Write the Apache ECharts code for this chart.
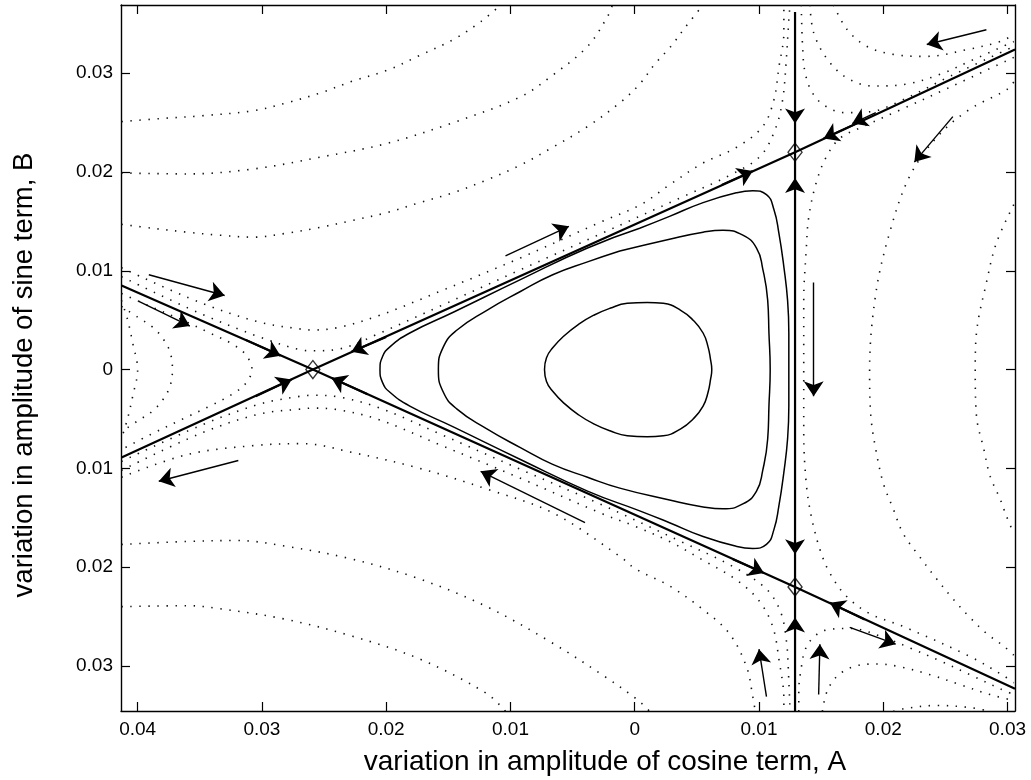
<!DOCTYPE html>
<html><head><meta charset="utf-8">
<script src="https://cdn.jsdelivr.net/npm/echarts@6/dist/echarts.min.js"></script>
<style>html,body{margin:0;padding:0;background:#fff}#c{width:1031px;height:780px}</style>
</head><body><div id="c"></div>
<script>
// ---- tick labels / axis ranges ----
const xTicks = [-0.04,-0.03,-0.02,-0.01,0,0.01,0.02,0.03];
const yTicks = [-0.03,-0.02,-0.01,0,0.01,0.02,0.03];
const xTitle = 'variation in amplitude of cosine term, A';
const yTitle = 'variation in amplitude of sine term, B';

// ---- saddle points ----
const saddles = [[-0.0259,0],[0.0129,0.0220],[0.0129,-0.0220]];

// ---- separatrices (solid, thick) ----
const sepA = [[-0.0413,0.0085],[-0.0259,0],[0.0129,-0.0220],[0.0306,-0.0323]];
const sepB = [[-0.0413,-0.0089],[-0.0259,0],[0.0129,0.0220],[0.0306,0.0324]];
const sepV = [[0.0129,0.0362],[0.0129,-0.0346]];

// ---- closed orbits (solid, thin) ----
const orbit1 = [[0.0010,0.0068],[0.0023,0.0067],[0.0037,0.0060],[0.0047,0.0050],[0.0055,0.0037],[0.0059,0.0023],[0.0061,0.0010],[0.0062,0],[0.0061,-0.0010],[0.0059,-0.0023],[0.0055,-0.0037],[0.0047,-0.0050],[0.0037,-0.0060],[0.0023,-0.0067],[0.0010,-0.0068],[-0.0006,-0.0067],[-0.0020,-0.0062],[-0.0033,-0.0055],[-0.0045,-0.0046],[-0.0057,-0.0034],[-0.0066,-0.0022],[-0.0071,-0.0012],[-0.00726,0],[-0.0071,0.0012],[-0.0066,0.0022],[-0.0057,0.0034],[-0.0045,0.0046],[-0.0033,0.0055],[-0.0020,0.0062],[-0.0006,0.0067],[0.0010,0.0068]];
const orbit2 = [[-0.0012,0.0120],[0.0028,0.0132],[0.0055,0.0139],[0.0071,0.0141],[0.0087,0.0136],[0.0098,0.0123],[0.0103,0.0102],[0.0107,0.0070],[0.0108,0.0037],[0.0109,0],[0.0108,-0.0037],[0.0107,-0.0070],[0.0103,-0.0102],[0.0098,-0.0123],[0.0087,-0.0136],[0.0071,-0.0141],[0.0055,-0.0139],[0.0028,-0.0132],[-0.0012,-0.0120],[-0.0038,-0.0109],[-0.0066,-0.0096],[-0.0092,-0.0079],[-0.0119,-0.0060],[-0.0143,-0.0040],[-0.0154,-0.0023],[-0.0158,0],[-0.0154,0.0023],[-0.0143,0.0040],[-0.0119,0.0060],[-0.0092,0.0079],[-0.0066,0.0096],[-0.0038,0.0109],[-0.0012,0.0120]];
const orbit3 = [[0.0004,0.0143],[0.0028,0.0155],[0.0055,0.0169],[0.0082,0.0179],[0.0095,0.0181],[0.0106,0.0177],[0.0112,0.0162],[0.0116,0.0138],[0.0120,0.0104],[0.0123,0.0070],[0.0124,0.0037],[0.0124,0],[0.0124,-0.0037],[0.0123,-0.0070],[0.0120,-0.0104],[0.0116,-0.0138],[0.0112,-0.0162],[0.0106,-0.0177],[0.0095,-0.0181],[0.0082,-0.0179],[0.0055,-0.0169],[0.0028,-0.0155],[0.0004,-0.0143],[-0.0038,-0.0123],[-0.0092,-0.0091],[-0.0146,-0.0058],[-0.0181,-0.0037],[-0.0197,-0.0023],[-0.0203,-0.0013],[-0.0205,0],[-0.0203,0.0013],[-0.0197,0.0023],[-0.0181,0.0037],[-0.0146,0.0058],[-0.0092,0.0091],[-0.0038,0.0123],[0.0004,0.0143]];

// ---- dotted trajectories ----
const dotUL1 = [[-0.0413,0.0251],[-0.0382,0.0254],[-0.0347,0.0257],[-0.0307,0.0262],[-0.0280,0.0270],[-0.0253,0.0280],[-0.0227,0.0292],[-0.0199,0.0303],[-0.0173,0.0318],[-0.0146,0.0334],[-0.0124,0.0352],[-0.0108,0.0369]];
const dotUL2 = [[-0.0413,0.0199],[-0.0360,0.0198],[-0.0307,0.0203],[-0.0253,0.0215],[-0.0199,0.0229],[-0.0146,0.0250],[-0.0092,0.0276],[-0.0066,0.0298],[-0.0038,0.0327],[-0.0022,0.0357],[-0.0018,0.0369]];
const dotUL3 = [[-0.0413,0.0147],[-0.0388,0.0143],[-0.0360,0.0139],[-0.0334,0.0136],[-0.0307,0.0134],[-0.0280,0.0138],[-0.0253,0.0144],[-0.0227,0.0151],[-0.0199,0.0159],[-0.0173,0.0169],[-0.0146,0.0179],[-0.0119,0.0192],[-0.0092,0.0207],[-0.0066,0.0225],[-0.0038,0.0246],[-0.0012,0.0270],[0.0004,0.0289],[0.0016,0.0309],[0.0029,0.0327],[0.0041,0.0347],[0.0055,0.0369]];
const dotUL4 = [[-0.0413,0.0103],[-0.0350,0.0068],[-0.0302,0.0048],[-0.0269,0.0041],[-0.0259,0.0040],[-0.0237,0.0043],[-0.0205,0.0055],[-0.0157,0.0079],[-0.0092,0.0113],[-0.0028,0.0149],[0.0005,0.0167],[0.0028,0.0187],[0.0055,0.0209],[0.0082,0.0225],[0.0103,0.0246],[0.0112,0.0273],[0.0116,0.0306],[0.0120,0.0341],[0.0120,0.0369]];
const dotUL5 = [[-0.0413,0.0094],[-0.0350,0.0057],[-0.0302,0.0033],[-0.0269,0.0020],[-0.0259,0.0019],[-0.0237,0.0021],[-0.0205,0.0037],[-0.0157,0.0064],[-0.0092,0.0101],[-0.0028,0.0137],[0.0037,0.0174],[0.0077,0.0197],[0.0101,0.0216],[0.0113,0.0243],[0.0119,0.0273],[0.0122,0.0314],[0.0124,0.0354],[0.0125,0.0369]];
const dotLL1 = [[-0.0413,-0.0240],[-0.0360,-0.0239],[-0.0334,-0.0242],[-0.0280,-0.0253],[-0.0227,-0.0270],[-0.0173,-0.0293],[-0.0119,-0.0328],[-0.0104,-0.0346]];
const dotLL2 = [[-0.0413,-0.0177],[-0.0360,-0.0174],[-0.0320,-0.0173],[-0.0280,-0.0179],[-0.0227,-0.0192],[-0.0173,-0.0212],[-0.0119,-0.0240],[-0.0066,-0.0277],[-0.0025,-0.0310],[0.0002,-0.0334],[0.0012,-0.0346]];
const dotLL3 = [[-0.0413,-0.0109],[-0.0360,-0.0086],[-0.0307,-0.0077],[-0.0267,-0.0075],[-0.0227,-0.0084],[-0.0173,-0.0100],[-0.0119,-0.0121],[-0.0066,-0.0145],[-0.0012,-0.0189],[0.0001,-0.0202],[0.0028,-0.0219],[0.0055,-0.0243],[0.0076,-0.0267],[0.0090,-0.0301],[0.0095,-0.0331],[0.0097,-0.0346]];
const dotLL4 = [[-0.0413,-0.0093],[-0.0350,-0.0057],[-0.0302,-0.0035],[-0.0269,-0.0027],[-0.0259,-0.0026],[-0.0237,-0.0028],[-0.0205,-0.0039],[-0.0157,-0.0065],[-0.0092,-0.0101],[-0.0028,-0.0136],[0.0037,-0.0174],[0.0077,-0.0198],[0.0105,-0.0221],[0.0117,-0.0244],[0.0122,-0.0274],[0.0124,-0.0315],[0.0125,-0.0346]];
const dotLL5 = [[-0.0413,-0.0102],[-0.0350,-0.0065],[-0.0302,-0.0045],[-0.0269,-0.0040],[-0.0259,-0.0039],[-0.0237,-0.0041],[-0.0205,-0.0051],[-0.0157,-0.0076],[-0.0092,-0.0110],[-0.0028,-0.0145],[0.0001,-0.0159],[0.0028,-0.0174],[0.0055,-0.0193],[0.0082,-0.0213],[0.0100,-0.0234],[0.0111,-0.0260],[0.0116,-0.0293],[0.0120,-0.0334],[0.0120,-0.0346]];
const dotL1 = [[-0.0413,0.0070],[-0.0408,0.0050],[-0.0404,0.0027],[-0.0400,0],[-0.0404,-0.0027],[-0.0408,-0.0049],[-0.0413,-0.0070]];
const dotL2 = [[-0.0413,0.0064],[-0.0400,0.0053],[-0.0388,0.0043],[-0.0380,0.0032],[-0.0374,0.0018],[-0.0372,0],[-0.0374,-0.0017],[-0.0380,-0.0031],[-0.0388,-0.0042],[-0.0400,-0.0052],[-0.0413,-0.0063]];
const dotL3 = [[-0.0413,0.0077],[-0.0390,0.0064],[-0.0362,0.0049],[-0.0342,0.0037],[-0.0324,0.0026],[-0.0313,0.0015],[-0.0308,0],[-0.0313,-0.0014],[-0.0324,-0.0025],[-0.0342,-0.0037],[-0.0362,-0.0049],[-0.0390,-0.0066],[-0.0413,-0.0081]];
const dotTR1 = [[0.0134,0.0369],[0.0135,0.0329],[0.0137,0.0301],[0.0143,0.0280],[0.0153,0.0267],[0.0169,0.0260],[0.0190,0.0261],[0.0214,0.0272],[0.0254,0.0297],[0.0305,0.0327]];
const dotTR2 = [[0.0141,0.0369],[0.0144,0.0341],[0.0155,0.0314],[0.0171,0.0295],[0.0192,0.0287],[0.0219,0.0289],[0.0246,0.0299],[0.0273,0.0314],[0.0305,0.0332]];
const dotTR3 = [[0.0160,0.0369],[0.0171,0.0344],[0.0187,0.0327],[0.0208,0.0319],[0.0235,0.0317],[0.0268,0.0324],[0.0294,0.0332],[0.0305,0.0339]];
const dotR1 = [[0.0305,0.0316],[0.0254,0.0286],[0.0214,0.0263],[0.0182,0.0245],[0.0165,0.0234],[0.0154,0.0215],[0.0146,0.0189],[0.0140,0.0154],[0.0138,0.0121],[0.0136,0.0070],[0.0136,0],[0.0136,-0.0064],[0.0138,-0.0115],[0.0142,-0.0148],[0.0149,-0.0182],[0.0157,-0.0206],[0.0170,-0.0229],[0.0189,-0.0247],[0.0216,-0.0260],[0.0269,-0.0290],[0.0297,-0.0310],[0.0305,-0.0317]];
const dotR2 = [[0.0305,0.0291],[0.0299,0.0283],[0.0269,0.0263],[0.0243,0.0235],[0.0221,0.0195],[0.0205,0.0138],[0.0194,0.0077],[0.0189,0],[0.0190,-0.0047],[0.0194,-0.0081],[0.0200,-0.0115],[0.0208,-0.0141],[0.0216,-0.0166],[0.0229,-0.0189],[0.0243,-0.0212],[0.0256,-0.0232],[0.0269,-0.0250],[0.0283,-0.0267],[0.0297,-0.0280],[0.0305,-0.0289]];
const dotR3 = [[0.0305,0.0167],[0.0291,0.0128],[0.0283,0.0088],[0.0275,0.0037],[0.0274,0],[0.0275,-0.0047],[0.0281,-0.0081],[0.0286,-0.0108],[0.0294,-0.0131],[0.0299,-0.0148],[0.0305,-0.0166]];
const dotBR1 = [[0.0132,-0.0346],[0.0132,-0.0325],[0.0134,-0.0302],[0.0137,-0.0284],[0.0143,-0.0272],[0.0153,-0.0264],[0.0174,-0.0262],[0.0198,-0.0270],[0.0222,-0.0282],[0.0246,-0.0295],[0.0270,-0.0309],[0.0294,-0.0323],[0.0305,-0.0329]];
const dotBR2 = [[0.0151,-0.0346],[0.0155,-0.0325],[0.0164,-0.0309],[0.0178,-0.0300],[0.0195,-0.0298],[0.0214,-0.0301],[0.0238,-0.0309],[0.0262,-0.0319],[0.0286,-0.0329],[0.0305,-0.0335]];
const dotBR3 = [[0.0208,-0.0346],[0.0218,-0.0343],[0.0243,-0.0340],[0.0269,-0.0342],[0.0286,-0.0346]];

// ---- arrowheads on separatrices (from -> tip) ----
const sepArrows = [
  [[-0.0313,0.0030],[-0.0285,0.0014]],
  [[-0.0305,-0.0027],[-0.0276,-0.0010]],
  [[-0.0215,-0.0025],[-0.0244,-0.00085]],
  [[-0.0200,0.0033],[-0.0228,0.0018]],
  [[0.0070,0.0187],[0.0095,0.0201]],
  [[0.0180,0.0250],[0.0152,0.0234]],
  [[0.0129,0.0275],[0.0129,0.0249]],
  [[0.0129,0.0168],[0.0129,0.0194]],
  [[0.0129,-0.0161],[0.0129,-0.0187]],
  [[0.0129,-0.0277],[0.0129,-0.0251]],
  [[0.0079,-0.0192],[0.0104,-0.0206]],
  [[0.0185,-0.0253],[0.0157,-0.0236]]
];
// ---- free flow-direction arrows (tail -> head) ----
const flowArrows = [
  [[-0.0391,0.0096],[-0.0330,0.0075]],
  [[-0.0399,0.0069],[-0.0358,0.0044]],
  [[-0.0104,0.0115],[-0.0053,0.0145]],
  [[-0.0319,-0.0092],[-0.0383,-0.0113]],
  [[-0.0040,-0.0155],[-0.0124,-0.0103]],
  [[0.0283,0.0344],[0.0235,0.0329]],
  [[0.0256,0.0256],[0.0225,0.0210]],
  [[0.0144,0.0088],[0.0144,-0.0027]],
  [[0.0106,-0.0331],[0.0100,-0.0283]],
  [[0.0148,-0.0329],[0.0149,-0.0278]],
  [[0.0173,-0.0261],[0.0210,-0.0278]],
  [[0.0194,0.0260],[0.0175,0.0249]]
];

const dotted = [dotUL1,dotUL2,dotUL3,dotUL4,dotUL5,dotLL1,dotLL2,dotLL3,dotLL4,dotLL5,dotL1,dotL2,dotL3,dotTR1,dotTR2,dotTR3,dotR1,dotR2,dotR3,dotBR1,dotBR2,dotBR3];
const orbits = [orbit1,orbit2,orbit3];
const seps = [sepA,sepB,sepV];

const FONT = 'Liberation Sans, Arial, Helvetica, sans-serif';
const fmt = v => Math.abs(v) < 1e-9 ? '0' : Math.abs(v).toFixed(2);
const X_MIN = -0.04134, X_MAX = 0.0306, Y_MIN = -0.03456, Y_MAX = 0.0369;

function xAx(pos, labels) {
  return {
    type:'value', position:pos, min:X_MIN, max:X_MAX,
    axisLine:{show:true, onZero:false, lineStyle:{color:'#000', width:1.4}},
    axisTick:{show:true, inside:true, length:9, customValues:xTicks, lineStyle:{color:'#000', width:1.2}},
    axisLabel:{show:labels, customValues:xTicks, formatter:fmt, color:'#000', fontSize:19, fontFamily:FONT, margin:9},
    splitLine:{show:false}
  };
}
function yAx(pos, labels) {
  return {
    type:'value', position:pos, min:Y_MIN, max:Y_MAX,
    axisLine:{show:true, onZero:false, lineStyle:{color:'#000', width:1.4}},
    axisTick:{show:true, inside:true, length:9, customValues:yTicks, lineStyle:{color:'#000', width:1.2}},
    axisLabel:{show:labels, customValues:yTicks, formatter:fmt, color:'#000', fontSize:19, fontFamily:FONT, margin:8},
    splitLine:{show:false}
  };
}

const series = [];
dotted.forEach(d => series.push({type:'line', data:d, smooth:0.35, showSymbol:false, silent:true, z:2,
  lineStyle:{color:'#111', width:1.6, type:[1.4,7.6]}}));
orbits.forEach(d => series.push({type:'line', data:d, smooth:0.5, showSymbol:false, silent:true, z:3,
  lineStyle:{color:'#000', width:1.5}}));
seps.forEach(d => series.push({type:'line', data:d, showSymbol:false, silent:true, z:4,
  lineStyle:{color:'#000', width:2.2}}));
series.push({type:'lines', coordinateSystem:'cartesian2d', z:5, silent:true,
  symbol:['none','arrow'], symbolSize:[9,15],
  lineStyle:{color:'#000', width:2, opacity:1},
  data: sepArrows.map(c => ({coords:c}))});
series.push({type:'lines', coordinateSystem:'cartesian2d', z:5, silent:true,
  symbol:['none','arrow'], symbolSize:[9,15],
  lineStyle:{color:'#000', width:1.4, opacity:1},
  data: flowArrows.map(c => ({coords:c}))});
series.push({type:'scatter', data:saddles, symbol:'diamond', symbolSize:[14,18], z:6, silent:true,
  itemStyle:{color:'rgba(255,255,255,0)', borderColor:'#000', borderWidth:1.4}});

const chart = echarts.init(document.getElementById('c'), null, {renderer:'canvas'});
chart.setOption({
  animation:false,
  backgroundColor:'#fff',
  grid:{left:121, right:16, top:5, bottom:69, containLabel:false},
  xAxis:[xAx('bottom', true), xAx('top', false)],
  yAxis:[yAx('left', true), yAx('right', false)],
  series: series,
  graphic:[
    {type:'text', x:605, y:762, style:{text:xTitle, font:'28px '+FONT, fill:'#000', align:'center', verticalAlign:'middle'}},
    {type:'text', x:24, y:375, rotation:Math.PI/2, style:{text:yTitle, font:'27.5px '+FONT, fill:'#000', align:'center', verticalAlign:'middle'}}
  ]
});
</script></body></html>
